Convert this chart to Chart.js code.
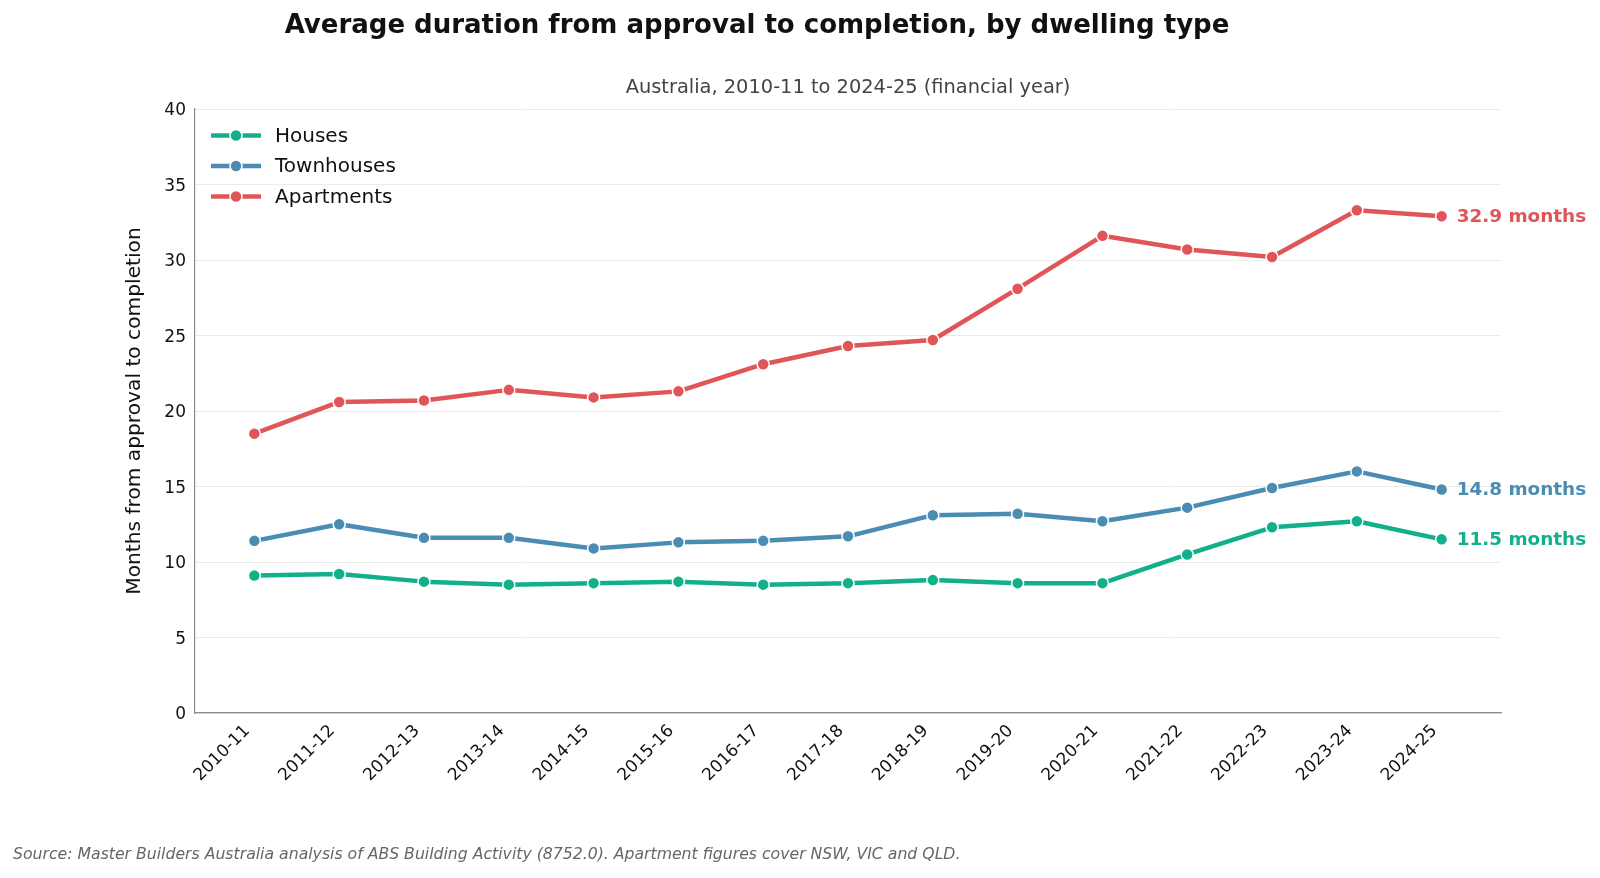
<!DOCTYPE html>
<html>
<head>
<meta charset="utf-8">
<title>Average duration from approval to completion</title>
<script src="https://cdn.jsdelivr.net/npm/chart.js@4.4.1/dist/chart.umd.min.js"></script>
<style>
  html, body { margin: 0; padding: 0; background: #fff; }
  #wrap { width: 1600px; height: 878px; position: relative; }
</style>
</head>
<body>
<div id="wrap"><canvas id="chart" width="1600" height="878"></canvas></div>
<script>
// ---- Data ----
const YEARS = ["2010-11", "2011-12", "2012-13", "2013-14", "2014-15", "2015-16", "2016-17", "2017-18",
  "2018-19", "2019-20", "2020-21", "2021-22", "2022-23", "2023-24", "2024-25"];
const HOUSES     = [9.1, 9.2, 8.7, 8.5, 8.6, 8.7, 8.5, 8.6, 8.8, 8.6, 8.6, 10.5, 12.3, 12.7, 11.5];
const TOWNHOUSES = [11.4, 12.5, 11.6, 11.6, 10.9, 11.3, 11.4, 11.7, 13.1, 13.2, 12.7, 13.6, 14.9, 16.0, 14.8];
const APARTMENTS = [18.5, 20.6, 20.7, 21.4, 20.9, 21.3, 23.1, 24.3, 24.7, 28.1, 31.6, 30.7, 30.2, 33.3, 32.9];
const Y_TICKS = [0, 5, 10, 15, 20, 25, 30, 35, 40];

const TITLE = "Average duration from approval to completion, by dwelling type";
const SUBTITLE = "Australia, 2010-11 to 2024-25 (financial year)";
const Y_LABEL = "Months from approval to completion";
const SOURCE = "Source: Master Builders Australia analysis of ABS Building Activity (8752.0). Apartment figures cover NSW, VIC and QLD.";

// ---- Palette ----
const C = { houses: "#12b08a", town: "#4a8cb2", apt: "#e05558", ink: "#111", muted: "#444", grid: "#ebebeb", spine: "#8a8a8a" };
const FONT = "'DejaVu Sans', sans-serif";

const toXY = (arr) => arr.map((v, i) => ({ x: i, y: v }));
const series = (label, arr, color) => ({
  label, data: toXY(arr), borderColor: color, backgroundColor: color,
  borderWidth: 4.5, tension: 0, pointRadius: 6, pointHoverRadius: 6,
  pointBackgroundColor: color, pointBorderColor: "#fff", pointBorderWidth: 1.5,
  borderJoinStyle: "round",
});

// titles, legend, end labels, source note
const decor = {
  id: "decor",
  afterDraw(chart) {
    const { ctx, chartArea: a } = chart;
    ctx.save();
    ctx.textBaseline = "middle";

    ctx.fillStyle = C.ink;
    ctx.font = "bold 26px " + FONT;
    ctx.textAlign = "center";
    ctx.fillText(TITLE, 757, 26);

    ctx.fillStyle = C.muted;
    ctx.font = "19.4px " + FONT;
    ctx.fillText(SUBTITLE, (a.left + a.right) / 2, 88);

    // legend
    ctx.textAlign = "left";
    ctx.font = "20px " + FONT;
    chart.data.datasets.forEach((ds, i) => {
      const y = 135.5 + i * 30.5;
      ctx.strokeStyle = ds.borderColor;
      ctx.lineWidth = 4.5;
      ctx.beginPath(); ctx.moveTo(211, y); ctx.lineTo(261, y); ctx.stroke();
      ctx.beginPath(); ctx.arc(236, y, 6, 0, Math.PI * 2);
      ctx.fillStyle = ds.borderColor; ctx.fill();
      ctx.lineWidth = 1.5; ctx.strokeStyle = "#fff"; ctx.stroke();
      ctx.fillStyle = C.ink;
      ctx.fillText(ds.label, 275, y + 1);
    });

    // end-of-line labels
    ctx.font = "bold 18.4px " + FONT;
    chart.data.datasets.forEach((ds, i) => {
      const pts = chart.getDatasetMeta(i).data;
      const last = pts[pts.length - 1];
      const v = ds.data[ds.data.length - 1].y;
      ctx.fillStyle = ds.borderColor;
      ctx.fillText(v.toFixed(1) + " months", last.x + 15, last.y + 1);
    });

    ctx.fillStyle = "#666";
    ctx.font = "italic 15.7px " + FONT;
    ctx.fillText(SOURCE, 13, 855);
    ctx.restore();
  },
};

Chart.defaults.font.family = FONT;
Chart.defaults.color = "#222";

new Chart(document.getElementById("chart").getContext("2d"), {
  type: "line",
  data: {
    datasets: [
      series("Houses", HOUSES, C.houses),
      series("Townhouses", TOWNHOUSES, C.town),
      series("Apartments", APARTMENTS, C.apt),
    ],
  },
  options: {
    responsive: false,
    animation: false,
    layout: { padding: { left: 120, right: 99, top: 109, bottom: 0 } },
    plugins: { legend: { display: false }, tooltip: { enabled: false }, title: { display: false } },
    scales: {
      x: {
        type: "linear", min: -0.7, max: 14.7,
        afterBuildTicks: (s) => { s.ticks = YEARS.map((_, i) => ({ value: i })); },
        afterFit: (s) => { s.height = 165; },
        grid: { display: false, drawTicks: false },
        border: { display: true, color: C.spine, width: 1.2 },
        ticks: { callback: (v) => YEARS[v], autoSkip: false, maxRotation: 45, minRotation: 45, padding: 8, labelOffset: -7, color: "#111", font: { size: 17 } },
      },
      y: {
        min: 0, max: 40,
        afterBuildTicks: (s) => { s.ticks = Y_TICKS.map((v) => ({ value: v })); },
        afterFit: (s) => { s.width = 75; },
        grid: { color: C.grid, lineWidth: 1, drawTicks: false },
        border: { display: true, color: C.spine, width: 1.2 },
        ticks: { padding: 9, labelOffset: 2, color: "#111", font: { size: 17 } },
        title: { display: true, text: Y_LABEL, color: "#111", font: { size: 20.2 }, padding: { top: 3, bottom: 0 } },
      },
    },
  },
  plugins: [decor],
});
</script>
</body>
</html>
